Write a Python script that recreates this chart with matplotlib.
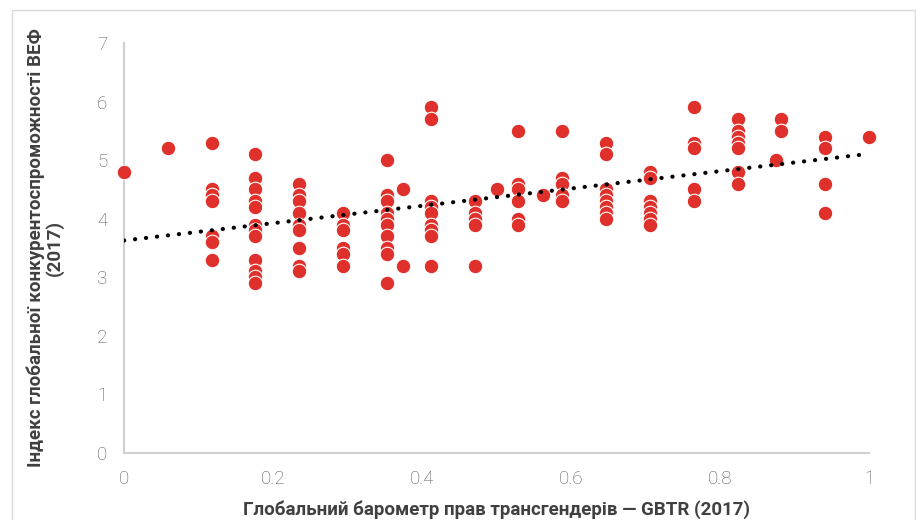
import numpy as np
import matplotlib.pyplot as plt
from matplotlib.patches import Rectangle

# GBTR score (x) vs WEF global competitiveness index (y), one list per column of points
k = 1 / 17
col_x = [0, k, 2 * k, 3 * k, 4 * k, 5 * k, 6 * k, 0.375, 7 * k, 8 * k, 0.5, 9 * k,
         0.5625, 10 * k, 11 * k, 12 * k, 13 * k, 14 * k, 0.875, 15 * k, 16 * k, 1]
col_y = [
    [4.8],
    [5.2],
    [5.3, 4.5, 4.4, 4.3, 3.7, 3.6, 3.3],
    [5.1, 4.7, 4.5, 4.3, 4.2, 3.9, 3.8, 3.7, 3.3, 3.1, 3.0, 2.9],
    [4.6, 4.4, 4.3, 4.1, 3.9, 3.8, 3.5, 3.2, 3.1],
    [4.1, 3.9, 3.8, 3.5, 3.4, 3.2],
    [5.0, 4.4, 4.3, 4.1, 4.0, 3.9, 3.7, 3.5, 3.4, 2.9],
    [4.5, 3.2],
    [5.9, 5.7, 4.3, 4.2, 4.1, 3.9, 3.8, 3.7, 3.2],
    [4.3, 4.1, 4.0, 3.9, 3.2],
    [4.5],
    [5.5, 4.6, 4.5, 4.3, 4.0, 3.9],
    [4.4],
    [5.5, 4.7, 4.6, 4.4, 4.3],
    [5.3, 5.1, 4.5, 4.4, 4.3, 4.2, 4.1, 4.0],
    [4.8, 4.7, 4.3, 4.2, 4.1, 4.0, 3.9],
    [5.9, 5.3, 5.2, 4.5, 4.3],
    [5.7, 5.5, 5.4, 5.3, 5.2, 4.8, 4.6],
    [5.0],
    [5.7, 5.5],
    [5.4, 5.2, 4.6, 4.1],
    [5.4],
]
x_ticks = [0, 0.2, 0.4, 0.6, 0.8, 1]
x_tick_labels = ["0", "0.2", "0.4", "0.6", "0.8", "1"]
y_ticks = [0, 1, 2, 3, 4, 5, 6, 7]

xs = np.concatenate([[cx] * len(cy) for cx, cy in zip(col_x, col_y)])
ys = np.concatenate([cy for cy in col_y])

fig = plt.figure(figsize=(9.16, 5.2), dpi=100)
ax = fig.add_axes([124 / 916, 1 - 453 / 520, 745 / 916, 410 / 520])

# light outer frame
fig.patches.append(Rectangle((12 / 916, -0.01), 0.999 - 12 / 916, 1 - 10 / 520 + 0.01,
                             transform=fig.transFigure, fill=False,
                             edgecolor="#d9d9d9", linewidth=1))

ax.scatter(xs, ys, s=110, color="#e0302b", edgecolors="white", linewidths=0.8,
           zorder=3, clip_on=False)

# linear trend line
slope, icpt = np.polyfit(xs, ys, 1)
tx = np.array([0, 1])
ax.plot(tx, slope * tx + icpt, color="black", linewidth=3,
        linestyle=(0, (0.05, 2.6)), dash_capstyle="round", zorder=4)

ax.set_xlim(0, 1)
ax.set_ylim(0, 7)
ax.set_xticks(x_ticks)
ax.set_xticklabels(x_tick_labels)
ax.set_yticks(y_ticks)
ax.tick_params(length=0, labelsize=13.5, labelcolor="#595959", pad=12)
for lab in ax.get_xticklabels() + ax.get_yticklabels():
    lab.set_fontfamily("Roboto")
    lab.set_fontweight("light")

for s in ["top", "right"]:
    ax.spines[s].set_visible(False)
for s in ["left", "bottom"]:
    ax.spines[s].set_color("#d0d0d0")
    ax.spines[s].set_linewidth(1.5)

ax.set_xlabel("Глобальний барометр прав трансгендерів — GBTR (2017)",
              fontsize=13.5, fontweight="bold", family="Roboto",
              color="#404040", labelpad=9)
ax.set_ylabel("Індекс глобальної конкурентоспроможності ВЕФ\n(2017)",
              fontsize=13.5, fontweight="bold", family="Roboto",
              color="#404040", labelpad=24, linespacing=1.0)

fig.savefig("out.png", dpi=100)
